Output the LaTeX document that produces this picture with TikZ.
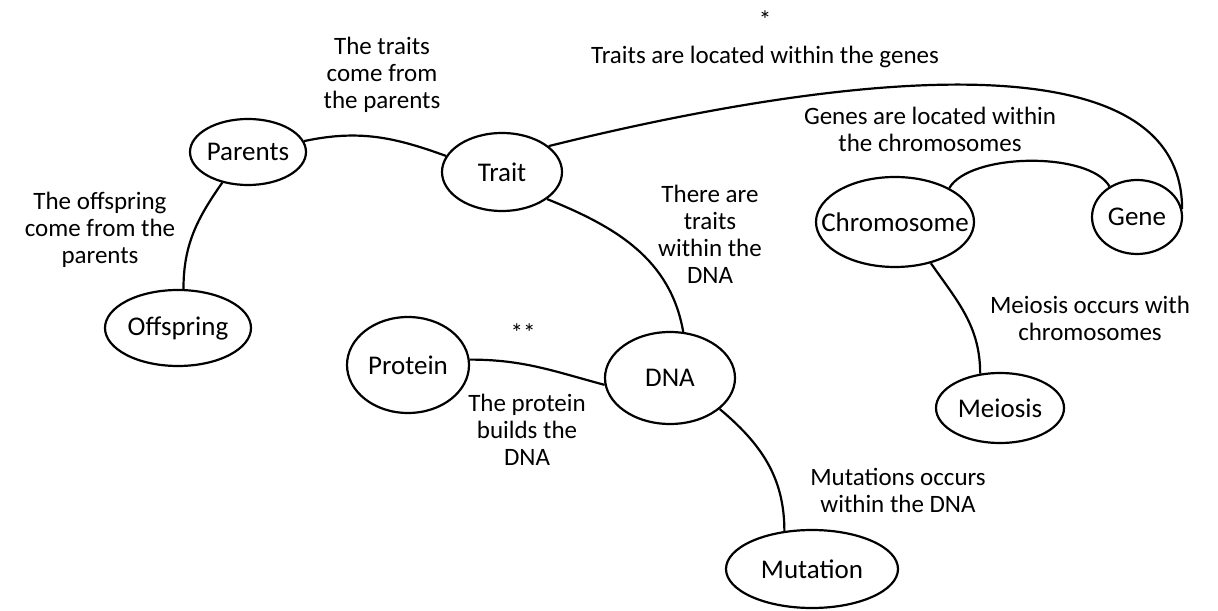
\documentclass[tikz,border=0pt]{standalone}
\usepackage{fontspec}
\setmainfont{Carlito}
\usetikzlibrary{shapes.geometric}

\newcommand{\inside}[1]{\makebox[0pt]{#1}}

\tikzset{
  concept/.style={draw, ellipse, line width=1.1pt, inner sep=0pt, font=\fontsize{13.5}{15}\selectfont},
  link/.style={line width=1.1pt},
  note/.style={align=center, inner sep=1pt, font=\fontsize{12.5}{13.5}\selectfont}
}

\begin{document}
\begin{tikzpicture}[x=0.5pt, y=0.5pt]
    \useasboundingbox (0,0) rectangle (1218,610);
    \node[concept, minimum width=58pt, minimum height=33pt] (parents) at (248,458) {\inside{Parents}};
    \node[concept, minimum width=60pt, minimum height=39pt] (trait) at (502,438) {\inside{Trait}};
    \node[concept, minimum width=73pt, minimum height=38pt] (offspring) at (178,282) {\inside{Offspring}};
    \node[concept, minimum width=61pt, minimum height=48pt] (protein) at (408,245) {\inside{Protein}};
    \node[concept, minimum width=65pt, minimum height=46pt] (dna) at (670,232) {\inside{DNA}};
    \node[concept, minimum width=86pt, minimum height=39pt] (mutation) at (812,41) {\inside{Mutation}};
    \node[concept, minimum width=64pt, minimum height=35pt] (meiosis) at (1000,202) {\inside{Meiosis}};
    \node[concept, minimum width=79pt, minimum height=45pt] (chromosome) at (895,388) {\inside{Chromosome}};
    \node[concept, minimum width=45pt, minimum height=37pt] (gene) at (1137,393) {\inside{Gene}};

    \node[note] (lblParents) at (382,535) {The traits\\come from\\the parents};
    \node[note] (lblOffspring) at (100,380) {The offspring\\come from the\\parents};
    \node[note] (lblGenes) at (765,553) {Traits are located within the genes};
    \node[note] (star) at (765,590) {*};
    \node[note] (lblChromosomes) at (930,481) {Genes are located within\\the chromosomes};
    \node[note] (lblDna) at (710,376) {There are\\traits\\within the\\DNA};
    \node[note] (lblProtein) at (527,180) {The protein\\builds the\\DNA};
    \node[note] (stars) at (523,277) {**};
    \node[note] (lblMutation) at (898,120) {Mutations occurs\\within the DNA};
    \node[note] (lblMeiosis) at (1090,292) {Meiosis occurs with\\chromosomes};

\begin{scope}[link]
    \draw (parents.11) to[out=12, in=160] (trait.164);
    \draw (parents.230) to[out=235, in=90] (offspring.82);
    \draw (trait.29) to[out=14, in=90, looseness=0.8] (gene.10);
    \draw (chromosome.32) to[out=60, in=120, looseness=0.65] (gene.132);
    \draw (trait.-31) to[out=-22, in=100] (dna.74);
    \draw (protein.5) to[out=0, in=165] (dna.186);
    \draw (dna.-32) to[out=-40, in=90] (mutation.126);
    \draw (chromosome.-49) to[out=-55, in=90] (meiosis.120);
\end{scope}
\end{tikzpicture}
\end{document}
